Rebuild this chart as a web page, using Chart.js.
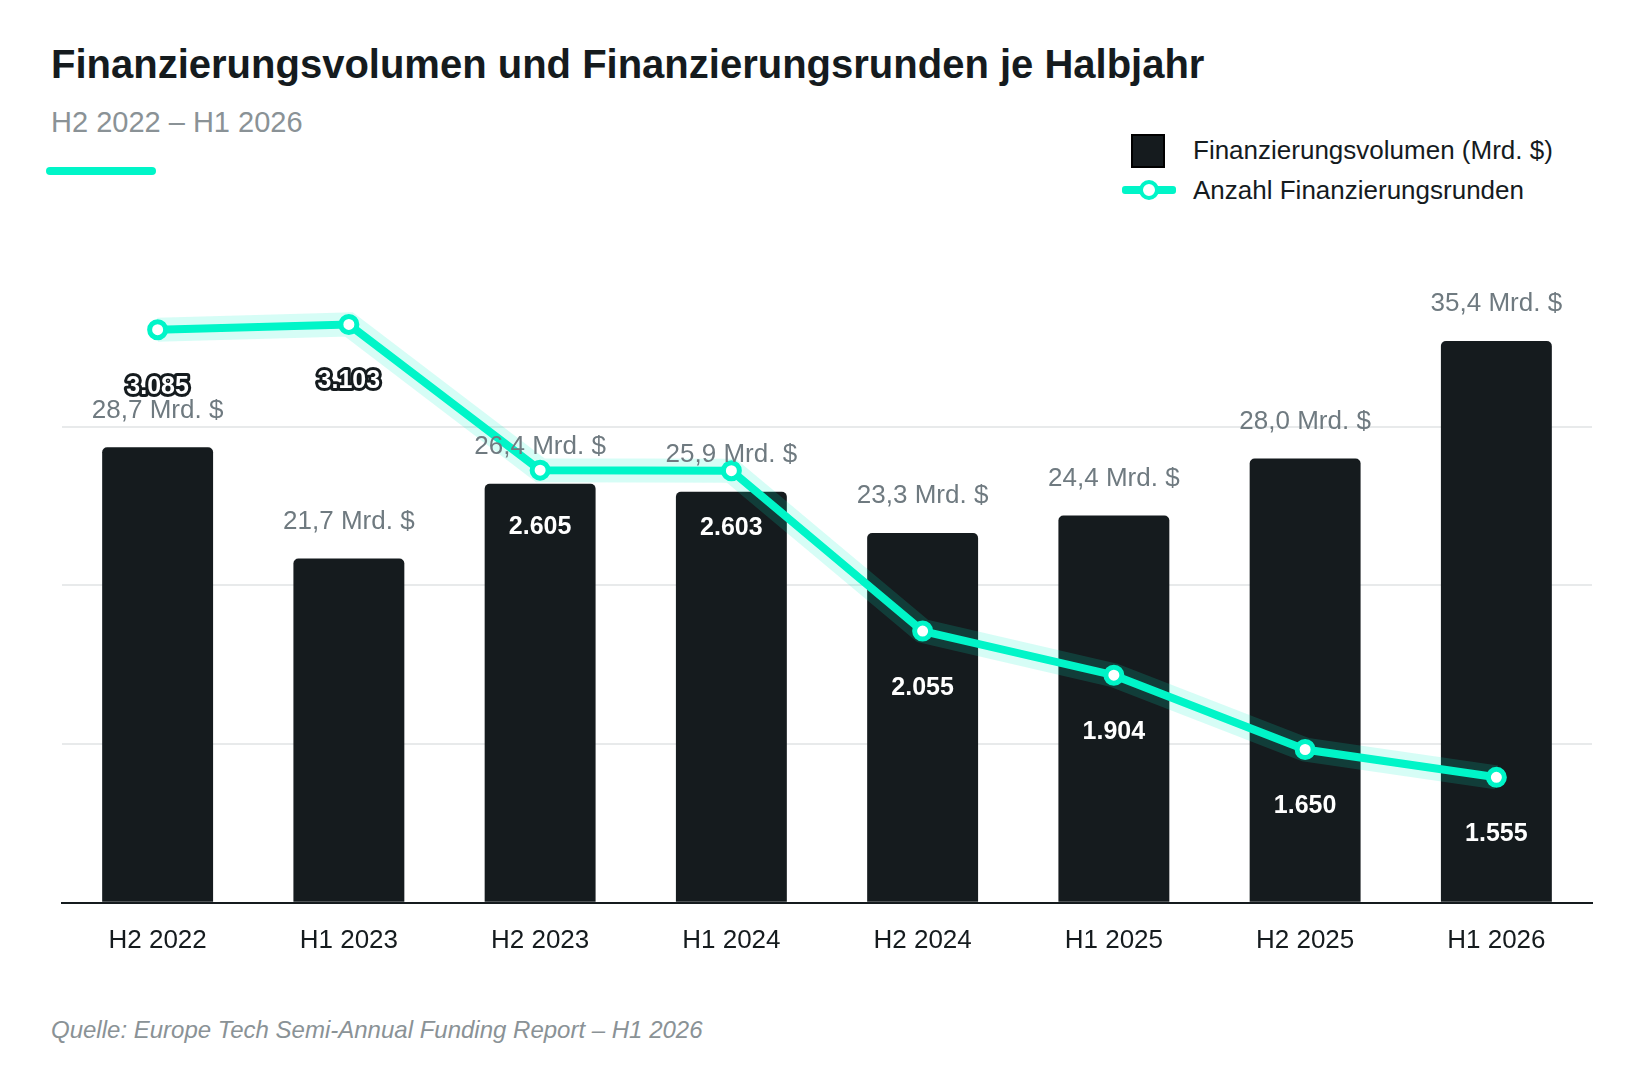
<!DOCTYPE html>
<html lang="de">
<head>
<meta charset="utf-8">
<script src="https://cdn.jsdelivr.net/npm/chart.js@4"></script>
<style>
  body { margin: 0; width: 1645px; height: 1089px; background: #fff; font-family: 'Liberation Sans', Arial, sans-serif; position: relative; overflow: hidden; }
  #titel { position: absolute; left: 51px; top: 42px; font-size: 40px; font-weight: bold; color: #151b1e; }
  #untertitel { position: absolute; left: 51px; top: 106px; font-size: 29px; color: #8a9296; }
  #akzent { position: absolute; left: 46px; top: 167px; width: 110px; height: 8px; border-radius: 4px; background: #00f5c8; }
  #legende { position: absolute; left: 1122px; top: 130px; font-size: 26px; color: #151b1e; }
  .zeile { display: flex; align-items: center; height: 40px; }
  .symbol { width: 54px; height: 34px; position: relative; margin-right: 17px; }
  .quadrat { position: absolute; left: 9px; top: 1px; width: 30px; height: 30px; background: #151b1e; border: 2px solid #000; }
  .linie { position: absolute; left: 0; top: 13px; width: 54px; height: 8px; background: #00f5c8; border-radius: 3px; }
  .punkt { position: absolute; left: 17px; top: 7px; width: 12px; height: 12px; border: 4px solid #00f5c8; border-radius: 50%; background: #fff; }
  #quelle { position: absolute; left: 51px; top: 1016px; font-size: 24px; font-style: italic; color: #8a9296; }
  #wrap { position: absolute; left: 49px; top: 240px; width: 1556px; height: 730px; }
</style>
</head>
<body>
<div id="titel">Finanzierungsvolumen und Finanzierungsrunden je Halbjahr</div>
<div id="untertitel">H2 2022 – H1 2026</div>
<div id="akzent"></div>
<div id="legende">
  <div class="zeile"><div class="symbol"><div class="quadrat"></div></div>Finanzierungsvolumen (Mrd. $)</div>
  <div class="zeile"><div class="symbol"><div class="linie"></div><div class="punkt"></div></div>Anzahl Finanzierungsrunden</div>
</div>
<div id="wrap"><canvas id="grafico"></canvas></div>
<div id="quelle">Quelle: Europe Tech Semi-Annual Funding Report – H1 2026</div>
<script>
const halbjahre = ['H2 2022', 'H1 2023', 'H2 2023', 'H1 2024', 'H2 2024', 'H1 2025', 'H2 2025', 'H1 2026'];
const volumen   = [28.7, 21.7, 26.4, 25.9, 23.3, 24.4, 28.0, 35.4];
const runden    = [3085, 3103, 2605, 2603, 2055, 1904, 1650, 1555];

const TEAL = '#00f5c8';
const DUNKEL = '#151b1e';

function formatVolumen(v) { return v.toFixed(1).replace('.', ',') + ' Mrd. $'; }
function formatRunden(v) { return v.toLocaleString('de-DE'); }

// Beschriftungen der Balken und Linienpunkte
const beschriftung = {
  id: 'beschriftung',
  afterDatasetsDraw(chart) {
    const ctx = chart.ctx;
    const balken = chart.getDatasetMeta(2).data;
    const punkte = chart.getDatasetMeta(1).data;
    ctx.save();
    ctx.textAlign = 'center';
    ctx.textBaseline = 'middle';
    ctx.font = '26px "Liberation Sans", Arial, sans-serif';
    ctx.fillStyle = '#6f7a80';
    balken.forEach((b, i) => ctx.fillText(formatVolumen(volumen[i]), b.x, b.y - 37));
    ctx.font = 'bold 25px "Liberation Sans", Arial, sans-serif';
    punkte.forEach((p, i) => {
      const y = p.y + 57;
      const text = formatRunden(runden[i]);
      if (y < balken[i].y + 10) {
        ctx.lineWidth = 6;
        ctx.lineJoin = 'round';
        ctx.strokeStyle = DUNKEL;
        ctx.strokeText(text, p.x, y);
      }
      ctx.fillStyle = '#fff';
      ctx.fillText(text, p.x, y);
    });
    ctx.restore();
  }
};

new Chart(document.getElementById('grafico'), {
  data: {
    labels: halbjahre,
    datasets: [
      { type: 'line', data: runden, yAxisID: 'y1', borderColor: 'rgba(0,245,200,0.16)', borderWidth: 24,
        pointRadius: 0, tension: 0, order: 1 },
      { type: 'line', data: runden, yAxisID: 'y1', borderColor: TEAL, borderWidth: 8,
        pointRadius: 8, pointBorderWidth: 5, pointBackgroundColor: '#fff', pointBorderColor: TEAL,
        tension: 0, order: 0 },
      { type: 'bar', data: volumen, yAxisID: 'y', backgroundColor: DUNKEL,
        borderRadius: { topLeft: 5, topRight: 5 }, borderSkipped: 'bottom',
        categoryPercentage: 1, barPercentage: 0.58, order: 2 }
    ]
  },
  plugins: [beschriftung],
  options: {
    responsive: true,
    maintainAspectRatio: false,
    animation: false,
    layout: { padding: { top: 28, left: 0, right: 0 } },
    plugins: { legend: { display: false }, tooltip: { enabled: false } },
    scales: {
      x: {
        grid: { display: false },
        border: { color: DUNKEL, width: 2 },
        ticks: { color: DUNKEL, font: { size: 26, family: 'Liberation Sans' }, padding: 14 }
      },
      y: {
        min: 0, max: 40,
        ticks: { display: false, stepSize: 10 },
        border: { display: false },
        grid: { color: c => (c.tick.value === 0 || c.tick.value === 40) ? 'rgba(0,0,0,0)' : '#e8eaeb', lineWidth: 2, drawTicks: false }
      },
      y1: { position: 'right', min: 1126, max: 3296, display: false }
    }
  }
});
</script>
</body>
</html>
